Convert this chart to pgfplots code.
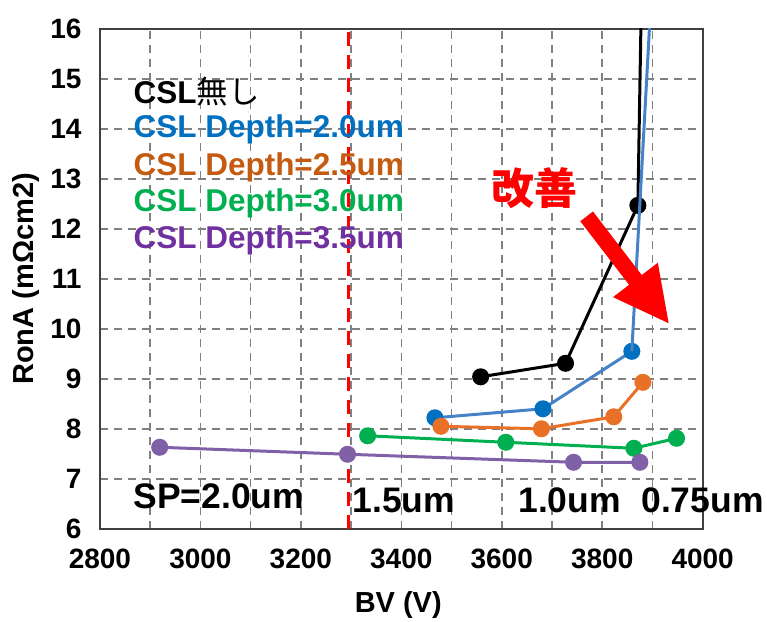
\documentclass[border=0pt]{standalone}
\usepackage{pgfplots}
\pgfplotsset{compat=1.18}
\usepackage{fontspec}
\setmainfont{Liberation Sans}
\newfontfamily\cjk{Noto Sans CJK JP}
\usetikzlibrary{arrows.meta,calc}
\definecolor{cblue}{RGB}{0,112,192}
\definecolor{cblueL}{RGB}{70,130,200}
\definecolor{corange}{RGB}{233,113,39}
\definecolor{corangeT}{RGB}{197,90,17}
\definecolor{cgreen}{RGB}{0,176,80}
\definecolor{cpurple}{RGB}{128,96,166}
\definecolor{cpurpleT}{RGB}{112,48,160}
\definecolor{gridg}{RGB}{128,128,128}
\begin{document}
\begin{tikzpicture}
\begin{axis}[name=ax,
  scale only axis, width=603pt, height=500pt,
  xmin=2800, xmax=4000, ymin=6, ymax=16,
  xtick={2800,3000,...,4000}, minor xtick={2900,3100,...,3900},
  ytick={6,7,...,16},
  grid=both,
  major grid style={draw=gridg, line width=1.6pt, dash pattern=on 8pt off 6pt},
  minor grid style={draw=gridg, line width=1.6pt, dash pattern=on 8pt off 6pt},
  major tick length=0pt, minor tick length=0pt,
  axis line style={draw=black!75, line width=2pt},
  tick label style={font=\bfseries\fontsize{28}{33}\selectfont},
  /pgf/number format/assume math mode=true,
  /pgf/number format/1000 sep={},
  xticklabel style={yshift=-17pt},
  yticklabel style={xshift=-15pt},
  xlabel={\bfseries BV (V)},
  ylabel={\bfseries RonA (mΩcm2)},
  label style={font=\bfseries\fontsize{29}{34}\selectfont},
  xlabel style={at={(axis description cs:0.495,-0.152)}, anchor=center},
  ylabel style={at={(axis description cs:-0.1227,0.5)}, anchor=center, rotate=0},
  clip mode=individual,
  every axis plot/.append style={line width=3pt},
]
% red dashed divider
\addplot[red, line width=3.5pt, dash pattern=on 14pt off 9pt, forget plot] coordinates {(3295,6) (3295,16)};
% CSL none (black)
\addplot[black, mark=*, mark size=7pt] coordinates {(3558,9.04) (3727,9.31) (3871,12.47)};
\addplot[black, forget plot] coordinates {(3871,12.47) (3877,16) (3877,17)};
% Depth 2.0
\addplot[cblueL, mark=*, mark size=7pt, mark options={fill=cblue, draw=cblue}] coordinates {(3467,8.22) (3682,8.40) (3859,9.55)};
\addplot[cblueL, forget plot] coordinates {(3859,9.55) (3894,16) (3900,17.1)};
% Depth 2.5
\addplot[corange, mark=*, mark size=7pt] coordinates {(3479,8.05) (3679,8.00) (3823,8.24) (3881,8.93)};
% Depth 3.0
\addplot[cgreen, mark=*, mark size=7pt] coordinates {(3333,7.86) (3608,7.73) (3863,7.61) (3948,7.81)};
% Depth 3.5
\addplot[cpurple, mark=*, mark size=7pt] coordinates {(2919,7.63) (3293,7.49) (3743,7.33) (3875,7.33)};
% legend texts
\node[anchor=west, font=\bfseries\fontsize{31.5}{36}\selectfont, text=black] at (axis cs:2860,14.75) {CSL{\mdseries\cjk 無し}};
\node[anchor=west, font=\bfseries\fontsize{31.5}{36}\selectfont, text=cblue] at (axis cs:2860,14.0) {CSL Depth=2.0um};
\node[anchor=west, font=\bfseries\fontsize{31.5}{36}\selectfont, text=corangeT] at (axis cs:2860,13.24) {CSL Depth=2.5um};
\node[anchor=west, font=\bfseries\fontsize{31.5}{36}\selectfont, text=cgreen] at (axis cs:2860,12.51) {CSL Depth=3.0um};
\node[anchor=west, font=\bfseries\fontsize{31.5}{36}\selectfont, text=cpurpleT] at (axis cs:2860,11.77) {CSL Depth=3.5um};
% SP labels
\node[anchor=west, font=\bfseries\fontsize{35.5}{42}\selectfont] at (axis cs:2860,6.65) {SP=2.0um};
\node[anchor=west, font=\bfseries\fontsize{35.5}{42}\selectfont] at (axis cs:3296,6.56) {1.5um};
\node[anchor=west, font=\bfseries\fontsize{35.5}{42}\selectfont] at (axis cs:3626,6.56) {1.0um};
\node[anchor=west, font=\bfseries\fontsize{35.5}{42}\selectfont] at (axis cs:3871,6.56) {0.75um};
% improvement
\node[font=\cjk\bfseries\fontsize{43}{50}\selectfont, text=red] at (axis cs:3666,12.81) {改善};
\draw[red, line width=16pt, -{Triangle[length=56pt,width=52pt]}] (axis cs:3769,12.25) -- (axis cs:3934,10.09);
\end{axis}
\path ($(ax.south west)+(-100pt,-92pt)$) rectangle ($(ax.north east)+(64pt,29pt)$);
\end{tikzpicture}
\end{document}
